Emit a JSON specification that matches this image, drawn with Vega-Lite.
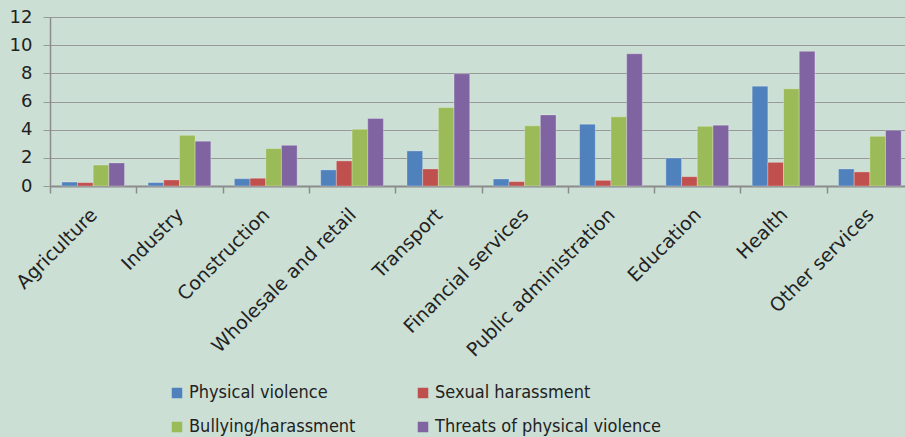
{
  "$schema": "https://vega.github.io/schema/vega-lite/v6.json",
  "width": 855,
  "height": 169,
  "autosize": "none",
  "padding": {"left": 50, "top": 17, "right": 0, "bottom": 251},
  "background": "#cbdfd4",
  "config": {
    "view": {"stroke": null},
    "font": "DejaVu Sans Condensed"
  },
  "data": {
    "values": [
      {"sector": "Agriculture", "type": "Physical violence", "value": 0.28},
      {"sector": "Agriculture", "type": "Sexual harassment", "value": 0.24},
      {"sector": "Agriculture", "type": "Bullying/harassment", "value": 1.49},
      {"sector": "Agriculture", "type": "Threats of physical violence", "value": 1.64},
      {"sector": "Industry", "type": "Physical violence", "value": 0.24},
      {"sector": "Industry", "type": "Sexual harassment", "value": 0.43},
      {"sector": "Industry", "type": "Bullying/harassment", "value": 3.6},
      {"sector": "Industry", "type": "Threats of physical violence", "value": 3.18},
      {"sector": "Construction", "type": "Physical violence", "value": 0.52},
      {"sector": "Construction", "type": "Sexual harassment", "value": 0.55},
      {"sector": "Construction", "type": "Bullying/harassment", "value": 2.66},
      {"sector": "Construction", "type": "Threats of physical violence", "value": 2.89},
      {"sector": "Wholesale and retail", "type": "Physical violence", "value": 1.14},
      {"sector": "Wholesale and retail", "type": "Sexual harassment", "value": 1.78},
      {"sector": "Wholesale and retail", "type": "Bullying/harassment", "value": 4.03},
      {"sector": "Wholesale and retail", "type": "Threats of physical violence", "value": 4.79},
      {"sector": "Transport", "type": "Physical violence", "value": 2.49},
      {"sector": "Transport", "type": "Sexual harassment", "value": 1.21},
      {"sector": "Transport", "type": "Bullying/harassment", "value": 5.57},
      {"sector": "Transport", "type": "Threats of physical violence", "value": 7.97},
      {"sector": "Financial services", "type": "Physical violence", "value": 0.5},
      {"sector": "Financial services", "type": "Sexual harassment", "value": 0.31},
      {"sector": "Financial services", "type": "Bullying/harassment", "value": 4.27},
      {"sector": "Financial services", "type": "Threats of physical violence", "value": 5.05},
      {"sector": "Public administration", "type": "Physical violence", "value": 4.39},
      {"sector": "Public administration", "type": "Sexual harassment", "value": 0.4},
      {"sector": "Public administration", "type": "Bullying/harassment", "value": 4.91},
      {"sector": "Public administration", "type": "Threats of physical violence", "value": 9.39},
      {"sector": "Education", "type": "Physical violence", "value": 1.99},
      {"sector": "Education", "type": "Sexual harassment", "value": 0.66},
      {"sector": "Education", "type": "Bullying/harassment", "value": 4.24},
      {"sector": "Education", "type": "Threats of physical violence", "value": 4.32},
      {"sector": "Health", "type": "Physical violence", "value": 7.09},
      {"sector": "Health", "type": "Sexual harassment", "value": 1.68},
      {"sector": "Health", "type": "Bullying/harassment", "value": 6.9},
      {"sector": "Health", "type": "Threats of physical violence", "value": 9.56},
      {"sector": "Other services", "type": "Physical violence", "value": 1.21},
      {"sector": "Other services", "type": "Sexual harassment", "value": 1.0},
      {"sector": "Other services", "type": "Bullying/harassment", "value": 3.53},
      {"sector": "Other services", "type": "Threats of physical violence", "value": 3.96}
    ]
  },
  "mark": {"type": "bar", "stroke": "#ffffff", "strokeOpacity": 0.35, "strokeWidth": 0.8},
  "encoding": {
    "x": {
      "field": "sector",
      "type": "nominal",
      "sort": null,
      "title": null,
      "scale": {"range": [0, 863], "paddingInner": 0, "paddingOuter": 0},
      "axis": {
        "domainColor": "#8c8c8c",
        "domainWidth": 2,
        "tickColor": "#8c8c8c",
        "tickWidth": 1.5,
        "tickSize": 7,
        "tickBand": "extent",
        "labelAngle": -45,
        "labelFont": "DejaVu Sans",
        "labelFontSize": 19,
        "labelColor": "#222222",
        "labelPadding": 12,
        "labelOffset": -6,
        "labelLimit": 400
      }
    },
    "xOffset": {
      "field": "type",
      "type": "nominal",
      "sort": ["Physical violence", "Sexual harassment", "Bullying/harassment", "Threats of physical violence"],
      "scale": {"paddingInner": 0, "paddingOuter": 0.75}
    },
    "y": {
      "field": "value",
      "type": "quantitative",
      "title": null,
      "scale": {"domain": [0, 12], "nice": false},
      "axis": {
        "values": [0, 2, 4, 6, 8, 10, 12],
        "gridColor": "#999999",
        "gridWidth": 1.2,
        "domainColor": "#8c8c8c",
        "domainWidth": 1.5,
        "tickColor": "#999999",
        "tickSize": 7,
        "labelFont": "DejaVu Sans",
        "labelFontSize": 18,
        "labelColor": "#222222",
        "labelPadding": 11
      }
    },
    "color": {
      "field": "type",
      "type": "nominal",
      "sort": ["Physical violence", "Sexual harassment", "Bullying/harassment", "Threats of physical violence"],
      "scale": {
        "domain": ["Physical violence", "Sexual harassment", "Bullying/harassment", "Threats of physical violence"],
        "range": ["#4f81bd", "#c0504d", "#9bbb59", "#8064a2"]
      },
      "legend": {
        "title": null,
        "orient": "none",
        "legendX": 118,
        "legendY": 367,
        "direction": "horizontal",
        "columns": 2,
        "symbolType": "square",
        "symbolSize": 110,
        "symbolStrokeWidth": 0,
        "labelFontSize": 18,
        "labelColor": "#222222",
        "labelOffset": 3,
        "labelLimit": 400,
        "columnPadding": 58,
        "rowPadding": 16
      }
    }
  }
}
